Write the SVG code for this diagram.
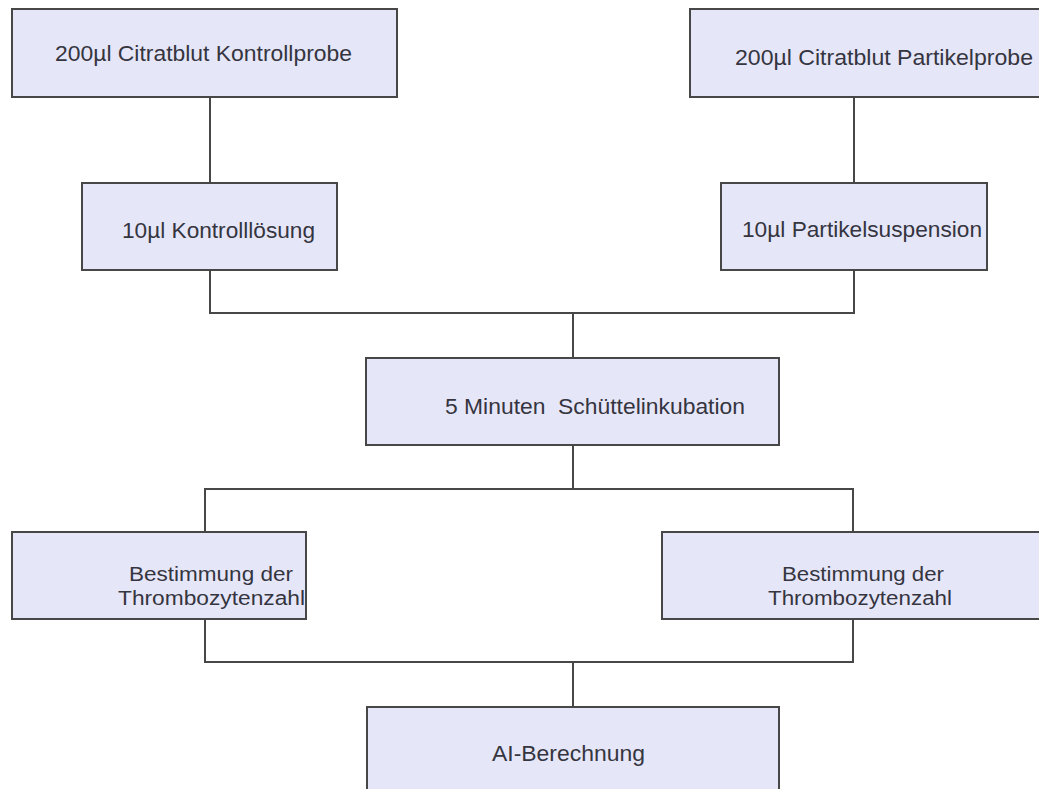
<svg xmlns="http://www.w3.org/2000/svg" width="1039" height="789" viewBox="0 0 1039 789">
<style>
.box{fill:#e6e6f9;stroke:#474747;stroke-width:2}
.lbl{font-family:"Liberation Sans",Arial,sans-serif;font-size:22px;fill:#35353f}
.sm{font-size:20px}
.con{fill:none;stroke:#474747;stroke-width:2}
</style>
<rect width="1039" height="789" fill="#ffffff"/>
<g id="connectors">
<path class="con" d="M210 97 V183"/>
<path class="con" d="M854 97 V183"/>
<path class="con" d="M210 270 V313 H854 V270"/>
<path class="con" d="M573 313 V358"/>
<path class="con" d="M573 445 V489"/>
<path class="con" d="M205 532 V489 H853 V532"/>
<path class="con" d="M205 619 V662 H853 V619"/>
<path class="con" d="M573 662 V707"/>
</g>
<g id="n1"><rect class="box" x="12" y="9" width="385" height="88"/><text class="lbl" x="55" y="61" textLength="297" lengthAdjust="spacingAndGlyphs">200µl Citratblut Kontrollprobe</text></g>
<g id="n2"><rect class="box" x="690" y="9" width="360" height="88"/><text class="lbl" x="735" y="65" textLength="298" lengthAdjust="spacingAndGlyphs">200µl Citratblut Partikelprobe</text></g>
<g id="n3"><rect class="box" x="82" y="183" width="255" height="87"/><text class="lbl" x="122" y="238" textLength="193" lengthAdjust="spacingAndGlyphs">10µl Kontrolllösung</text></g>
<g id="n4"><rect class="box" x="721" y="183" width="266" height="87"/><text class="lbl" x="742" y="237" textLength="240" lengthAdjust="spacingAndGlyphs">10µl Partikelsuspension</text></g>
<g id="n5"><rect class="box" x="366" y="358" width="413" height="87"/><text class="lbl" x="445" y="414" textLength="300" lengthAdjust="spacingAndGlyphs" xml:space="preserve">5 Minuten  Schüttelinkubation</text></g>
<g id="n6"><rect class="box" x="12" y="532" width="294" height="87"/><text class="lbl sm" x="129" y="581" textLength="164" lengthAdjust="spacingAndGlyphs">Bestimmung der</text><text class="lbl sm" x="118" y="605" textLength="187" lengthAdjust="spacingAndGlyphs">Thrombozytenzahl</text></g>
<g id="n7"><rect class="box" x="662" y="532" width="390" height="87"/><text class="lbl sm" x="782" y="581" textLength="162" lengthAdjust="spacingAndGlyphs">Bestimmung der</text><text class="lbl sm" x="768" y="605" textLength="184" lengthAdjust="spacingAndGlyphs">Thrombozytenzahl</text></g>
<g id="n8"><rect class="box" x="367" y="707" width="412" height="100"/><text class="lbl" x="492" y="761" textLength="153" lengthAdjust="spacingAndGlyphs">AI-Berechnung</text></g>
</svg>
